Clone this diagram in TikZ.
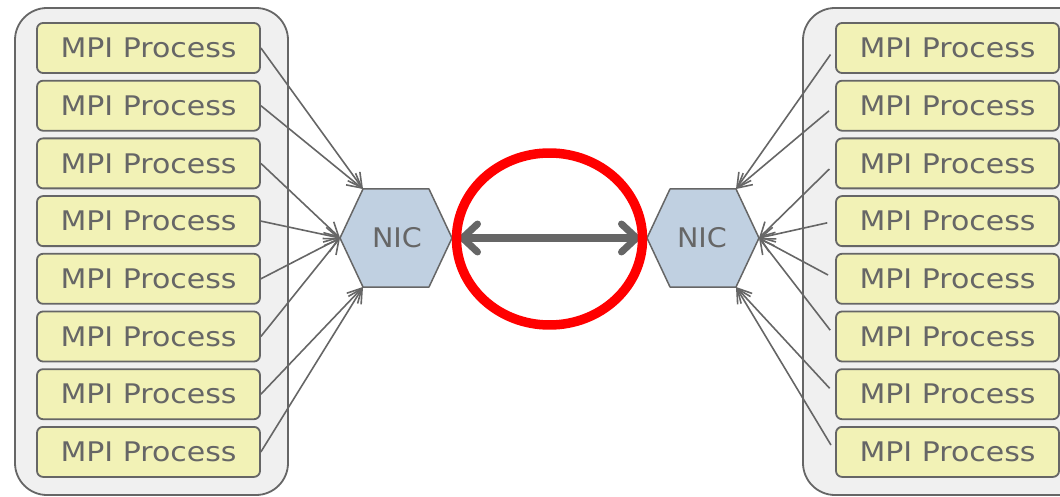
\documentclass[tikz,border=0pt]{standalone}
\usepackage{fontspec}
\setmainfont{DejaVu Sans}
\usetikzlibrary{arrows.meta,shapes.geometric}
\definecolor{txt}{HTML}{666666}
\definecolor{edgegray}{HTML}{666666}
\definecolor{procfill}{HTML}{F2F2B6}
\definecolor{contfill}{HTML}{F0F0F0}
\definecolor{nicfill}{HTML}{C0D0E1}
\definecolor{ringred}{HTML}{FF0000}
\newcommand{\proctext}{\fontsize{27}{30}\selectfont\raisebox{-2pt}{\scalebox{1.11}[1]{MPI Process}}}
\begin{document}
\begin{tikzpicture}[x=1pt,y=-1pt,line join=round,
  container/.style={draw=edgegray,fill=contfill,line width=1.8pt,rounded corners=32pt},
  proc/.style={draw=edgegray,fill=procfill,line width=1.8pt,rounded corners=6pt,
    minimum width=223pt,minimum height=50pt,inner sep=0pt,text=txt},
  nicshape/.style={draw=edgegray,fill=nicfill,line width=1.5pt},
  nictext/.style={text=txt,font=\fontsize{27}{30}\selectfont,inner sep=0pt},
  feed/.style={draw=edgegray,line width=1.6pt,-{Straight Barb[length=14pt,width=15pt]}},
  bigarrow/.style={draw=edgegray,line width=7pt,line cap=round,
    {Straight Barb[length=15pt,width=28pt,line cap=round,round]}-{Straight Barb[length=15pt,width=28pt,line cap=round,round]}},
  ring/.style={draw=ringred,line width=9.5pt,ellipse,minimum width=186pt,minimum height=172pt,inner sep=0pt}]
\useasboundingbox (0,0) rectangle (1060,497);
\clip (0,0) rectangle (1060,497);
% containers
\draw[container] (15,8) rectangle (288,495);
\draw[container] (803,8) rectangle (1100,495);
% processes
\foreach \i in {1,...,8}{
  \pgfmathsetmacro{\yy}{48+(\i-1)*57.7}
  \node[proc] (L\i) at (148.5,\yy) {\proctext};
  \node[proc] (R\i) at (947.5,\yy) {\proctext};
}
% NIC hexagons
\coordinate (nicLtl) at (363,189);
\coordinate (nicLtr) at (429,189);
\coordinate (nicLr) at (452,238);
\coordinate (nicLbr) at (429,287);
\coordinate (nicLbl) at (363,287);
\coordinate (nicLl) at (340,238);
\draw[nicshape] (nicLl) -- (nicLtl) -- (nicLtr) -- (nicLr) -- (nicLbr) -- (nicLbl) -- cycle;
\node[nictext] (nicL) at (397,238) {\scalebox{1.06}[1]{NIC}};
\coordinate (nicRtl) at (670,189);
\coordinate (nicRtr) at (736,189);
\coordinate (nicRr) at (759,238);
\coordinate (nicRbr) at (736,287);
\coordinate (nicRbl) at (670,287);
\coordinate (nicRl) at (647,238);
\draw[nicshape] (nicRl) -- (nicRtl) -- (nicRtr) -- (nicRr) -- (nicRbr) -- (nicRbl) -- cycle;
\node[nictext] (nicR) at (702,238) {\scalebox{1.06}[1]{NIC}};
% feeds, left
\foreach \i in {1,2}{\draw[feed] (L\i.east) -- (nicLtl);}
\foreach \i in {3,4,5,6}{\draw[feed] (L\i.east) -- (nicLl);}
\foreach \i in {7,8}{\draw[feed] (L\i.east) -- (nicLbl);}
% feeds, right
\foreach \i in {1,2}{\draw[feed,shorten <=8pt] (R\i.west) -- (nicRtr);}
\foreach \i in {3,4,5,6}{\draw[feed,shorten <=8pt] (R\i.west) -- (nicRr);}
\foreach \i in {7,8}{\draw[feed,shorten <=8pt] (R\i.west) -- (nicRbr);}
% link
\draw[bigarrow,shorten <=7pt,shorten >=7pt] (nicLr) -- (nicRl);
\node[ring] (loop) at (549.5,239) {};
\end{tikzpicture}
\end{document}
